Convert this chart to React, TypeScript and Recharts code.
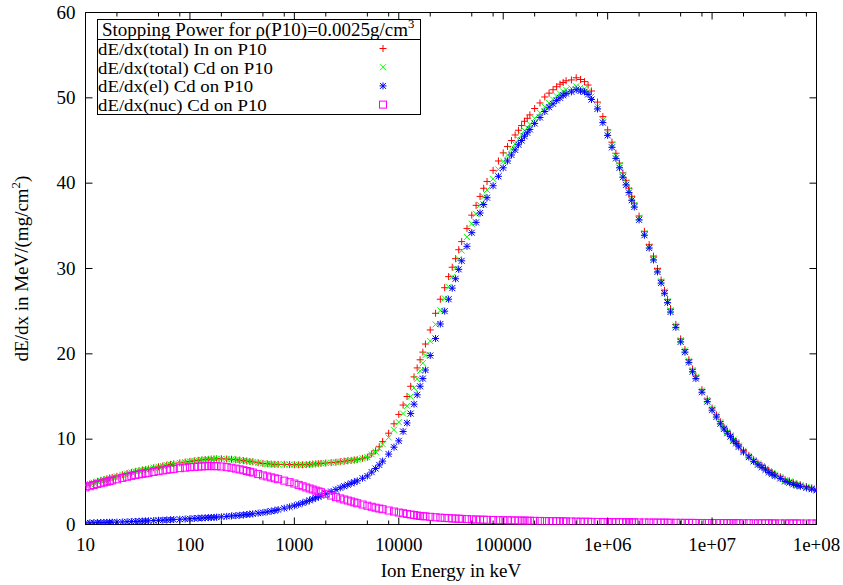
import { ScatterChart, Scatter, XAxis, YAxis } from 'recharts'

// SRIM energy grid (keV)
const energyKeV = [
  10, 11, 12, 13, 14, 15, 16, 17, 18, 20, 22.5, 25, 27.5, 30, 32.5, 35, 37.5, 40, 45, 50, 55, 60, 65, 70, 80, 90,
  100, 110, 120, 130, 140, 150, 160, 170, 180, 200, 225, 250, 275, 300, 325, 350, 375, 400, 450, 500, 550, 600, 650, 700, 800, 900,
  1e3, 1.1e3, 1.2e3, 1.3e3, 1.4e3, 1.5e3, 1.6e3, 1.7e3, 1.8e3, 2e3, 2.25e3, 2.5e3, 2.75e3, 3e3, 3.25e3, 3.5e3, 3.75e3, 4e3, 4.5e3, 5e3, 5.5e3, 6e3, 6.5e3, 7e3, 8e3, 9e3,
  1e4, 1.1e4, 1.2e4, 1.3e4, 1.4e4, 1.5e4, 1.6e4, 1.7e4, 1.8e4, 2e4, 2.25e4, 2.5e4, 2.75e4, 3e4, 3.25e4, 3.5e4, 3.75e4, 4e4, 4.5e4, 5e4, 5.5e4, 6e4, 6.5e4, 7e4, 8e4, 9e4,
  1e5, 1.1e5, 1.2e5, 1.3e5, 1.4e5, 1.5e5, 1.6e5, 1.7e5, 1.8e5, 2e5, 2.25e5, 2.5e5, 2.75e5, 3e5, 3.25e5, 3.5e5, 3.75e5, 4e5, 4.5e5, 5e5, 5.5e5, 6e5, 6.5e5, 7e5, 8e5, 9e5,
  1e6, 1.1e6, 1.2e6, 1.3e6, 1.4e6, 1.5e6, 1.6e6, 1.7e6, 1.8e6, 2e6, 2.25e6, 2.5e6, 2.75e6, 3e6, 3.25e6, 3.5e6, 3.75e6, 4e6, 4.5e6, 5e6, 5.5e6, 6e6, 6.5e6, 7e6, 8e6, 9e6,
  1e7, 1.1e7, 1.2e7, 1.3e7, 1.4e7, 1.5e7, 1.6e7, 1.7e7, 1.8e7, 2e7, 2.25e7, 2.5e7, 2.75e7, 3e7, 3.25e7, 3.5e7, 3.75e7, 4e7, 4.5e7, 5e7, 5.5e7, 6e7, 6.5e7, 7e7, 8e7, 9e7,
  1e8,
]

// dE/dx(total) In on P10
const inTotal = [
  4.6, 4.75, 4.9, 5.03, 5.14, 5.24, 5.33, 5.42, 5.51, 5.65, 5.83, 5.97, 6.1, 6.2, 6.3, 6.38, 6.45, 6.51, 6.65, 6.76, 6.86, 6.96, 7.04, 7.11, 7.22, 7.31,
  7.4, 7.46, 7.52, 7.57, 7.61, 7.64, 7.67, 7.68, 7.69, 7.7, 7.67, 7.65, 7.59, 7.54, 7.48, 7.44, 7.39, 7.34, 7.24, 7.15, 7.11, 7.08, 7.05, 7.05, 7.05, 7.02,
  7.0, 7.0, 7.0, 7.01, 7.05, 7.08, 7.1, 7.13, 7.16, 7.2, 7.25, 7.3, 7.36, 7.42, 7.47, 7.52, 7.56, 7.6, 7.76, 7.89, 8.27, 8.63, 9.11, 9.72, 10.7, 11.8,
  12.9, 14.0, 15.0, 16.2, 17.3, 18.35, 19.3, 20.2, 21.15, 22.8, 24.75, 26.4, 27.75, 29.05, 30.15, 31.15, 32.2, 33.15, 34.7, 36.25, 37.4, 38.45, 39.4, 40.2, 41.5, 42.6,
  43.55, 44.3, 45.0, 45.65, 46.2, 46.75, 47.25, 47.6, 48.0, 48.75, 49.4, 50.1, 50.55, 50.95, 51.3, 51.6, 51.8, 52.0, 52.1, 52.35, 52.15, 51.9, 51.5, 50.8, 49.5, 47.8,
  46.25, 44.8, 43.5, 42.35, 41.2, 40.3, 39.4, 38.45, 37.65, 36.15, 34.35, 32.8, 31.45, 30.0, 28.65, 27.45, 26.35, 25.25, 23.45, 21.75, 20.5, 19.3, 18.2, 17.4, 15.8, 14.7,
  13.65, 12.85, 12.05, 11.4, 10.9, 10.5, 10.0, 9.7, 9.3, 8.7, 8.1, 7.6, 7.2, 6.9, 6.6, 6.3, 6.1, 5.9, 5.6, 5.25, 5.1, 4.9, 4.75, 4.65, 4.45, 4.3,
  4.15,
]

// dE/dx(total) Cd on P10
const cdTotal = [
  4.6, 4.75, 4.9, 5.03, 5.14, 5.24, 5.33, 5.42, 5.51, 5.65, 5.83, 5.97, 6.1, 6.2, 6.3, 6.38, 6.45, 6.51, 6.65, 6.76, 6.86, 6.96, 7.04, 7.11, 7.22, 7.31,
  7.4, 7.46, 7.52, 7.57, 7.61, 7.64, 7.67, 7.68, 7.69, 7.7, 7.67, 7.65, 7.59, 7.54, 7.48, 7.44, 7.39, 7.34, 7.24, 7.15, 7.11, 7.08, 7.05, 7.05, 7.05, 7.02,
  7.0, 7.0, 7.0, 7.01, 7.05, 7.08, 7.1, 7.13, 7.16, 7.2, 7.25, 7.3, 7.36, 7.42, 7.47, 7.52, 7.56, 7.6, 7.76, 7.89, 8.22, 8.53, 8.91, 9.42, 10.2, 11.1,
  12.0, 13.0, 13.9, 15.0, 16.0, 17.05, 18.0, 18.9, 19.85, 21.5, 23.45, 25.1, 26.5, 27.85, 29.0, 30.05, 31.1, 32.1, 33.7, 35.25, 36.4, 37.45, 38.4, 39.2, 40.5, 41.6,
  42.55, 43.3, 44.0, 44.6, 45.15, 45.65, 46.15, 46.5, 46.9, 47.6, 48.25, 48.95, 49.4, 49.8, 50.2, 50.5, 50.75, 50.95, 51.1, 51.35, 51.2, 51.05, 50.75, 50.15, 49.0, 47.4,
  45.9, 44.5, 43.2, 42.1, 41.0, 40.1, 39.2, 38.25, 37.45, 35.95, 34.15, 32.6, 31.25, 29.8, 28.5, 27.3, 26.2, 25.1, 23.3, 21.6, 20.4, 19.2, 18.1, 17.3, 15.7, 14.6,
  13.6, 12.8, 12.0, 11.35, 10.85, 10.45, 9.95, 9.65, 9.25, 8.65, 8.05, 7.55, 7.15, 6.85, 6.55, 6.25, 6.05, 5.85, 5.55, 5.2, 5.05, 4.85, 4.7, 4.6, 4.4, 4.25,
  4.1,
]

// dE/dx(el) Cd on P10
const cdEl = [
  0.18, 0.19, 0.2, 0.22, 0.23, 0.24, 0.25, 0.26, 0.27, 0.28, 0.3, 0.32, 0.34, 0.36, 0.38, 0.4, 0.42, 0.43, 0.46, 0.49, 0.51, 0.53, 0.55, 0.58, 0.61, 0.64,
  0.68, 0.71, 0.74, 0.76, 0.78, 0.8, 0.82, 0.84, 0.86, 0.9, 0.95, 1.0, 1.04, 1.08, 1.12, 1.17, 1.21, 1.25, 1.33, 1.4, 1.48, 1.56, 1.64, 1.74, 1.91, 2.06,
  2.2, 2.36, 2.52, 2.67, 2.83, 2.98, 3.12, 3.25, 3.38, 3.6, 3.86, 4.09, 4.3, 4.49, 4.66, 4.82, 4.97, 5.11, 5.42, 5.69, 6.14, 6.56, 6.98, 7.43, 8.25, 9.06,
  9.8, 10.9, 11.9, 13.0, 14.1, 15.2, 16.2, 17.1, 18.1, 19.8, 21.8, 23.5, 25.0, 26.4, 27.7, 28.8, 29.9, 30.9, 32.6, 34.2, 35.4, 36.5, 37.5, 38.3, 39.7, 40.8,
  41.8, 42.6, 43.3, 43.9, 44.5, 45.0, 45.5, 45.9, 46.3, 47.0, 47.7, 48.4, 48.9, 49.3, 49.7, 50.0, 50.3, 50.5, 50.7, 50.95, 50.8, 50.7, 50.4, 49.8, 48.7, 47.1,
  45.6, 44.2, 42.9, 41.8, 40.7, 39.8, 38.9, 38.0, 37.2, 35.7, 33.9, 32.4, 31.0, 29.6, 28.3, 27.1, 26.0, 24.9, 23.1, 21.4, 20.2, 19.0, 17.9, 17.1, 15.5, 14.4,
  13.4, 12.6, 11.8, 11.2, 10.7, 10.3, 9.8, 9.5, 9.1, 8.5, 7.9, 7.4, 7.0, 6.7, 6.4, 6.1, 5.9, 5.7, 5.4, 5.05, 4.9, 4.7, 4.56, 4.47, 4.29, 4.14,
  4.0,
]

// dE/dx(nuc) Cd on P10
const cdNuc = [
  4.35, 4.49, 4.63, 4.74, 4.84, 4.93, 5.01, 5.09, 5.17, 5.3, 5.46, 5.59, 5.7, 5.79, 5.87, 5.94, 6.0, 6.05, 6.16, 6.25, 6.33, 6.41, 6.47, 6.52, 6.6, 6.66,
  6.72, 6.75, 6.78, 6.81, 6.83, 6.84, 6.85, 6.84, 6.83, 6.8, 6.72, 6.65, 6.55, 6.46, 6.36, 6.27, 6.18, 6.09, 5.91, 5.75, 5.63, 5.52, 5.41, 5.31, 5.14, 4.96,
  4.8, 4.64, 4.48, 4.34, 4.22, 4.1, 3.98, 3.88, 3.78, 3.6, 3.39, 3.21, 3.06, 2.93, 2.81, 2.7, 2.59, 2.49, 2.34, 2.2, 2.08, 1.97, 1.87, 1.79, 1.64, 1.52,
  1.4, 1.32, 1.24, 1.17, 1.11, 1.05, 1.0, 0.97, 0.95, 0.9, 0.85, 0.8, 0.77, 0.74, 0.71, 0.69, 0.68, 0.66, 0.63, 0.6, 0.58, 0.57, 0.56, 0.55, 0.53, 0.51,
  0.5, 0.49, 0.48, 0.47, 0.46, 0.46, 0.45, 0.44, 0.44, 0.43, 0.42, 0.4, 0.39, 0.39, 0.38, 0.37, 0.37, 0.36, 0.35, 0.34, 0.33, 0.32, 0.32, 0.31, 0.3, 0.29,
  0.28, 0.28, 0.27, 0.27, 0.26, 0.26, 0.26, 0.25, 0.25, 0.24, 0.24, 0.23, 0.23, 0.22, 0.22, 0.21, 0.21, 0.21, 0.2, 0.2, 0.19, 0.19, 0.19, 0.18, 0.18, 0.17,
  0.17, 0.17, 0.17, 0.16, 0.16, 0.16, 0.16, 0.16, 0.15, 0.15, 0.15, 0.14, 0.14, 0.14, 0.14, 0.14, 0.13, 0.13, 0.13, 0.13, 0.13, 0.13, 0.12, 0.12, 0.12, 0.12,
  0.12,
]

const xMajor = [10, 100, 1000, 1e4, 1e5, 1e6, 1e7, 1e8]
const xMajorLabels = ['10', '100', '1000', '10000', '100000', '1e+06', '1e+07', '1e+08']
const xMinorSteps = [2, 5, 8]
const yTicks = [0, 10, 20, 30, 40, 50, 60]

const legendTitle = 'Stopping Power for ρ(P10)=0.0025g/cm'
const seriesNames = [
  'dE/dx(total) In on P10',
  'dE/dx(total) Cd on P10',
  'dE/dx(el) Cd on P10',
  'dE/dx(nuc) Cd on P10',
]

const W = 843
const H = 585
const LEFT = 85.5
const RIGHT = 816.5
const TOP = 12.5
const BOTTOM = 524.5
const FONT = '"Liberation Serif", "Times New Roman", serif'
const FS = 19

const xTicks = [
  ...xMajor,
  ...xMajor.slice(0, -1).flatMap(m => xMinorSteps.map(s => m * s)),
].sort((a, b) => a - b)

const rows = (vals: number[]) => energyKeV.map((e, i) => ({ e, v: vals[i] }))

// gnuplot style point types
function Plus({ cx, cy, color }: any) {
  return <path d={`M${cx - 3.5},${cy}H${cx + 3.5}M${cx},${cy - 3.5}V${cy + 3.5}`} stroke={color} strokeWidth={1} fill="none" />
}
function Cross({ cx, cy, color }: any) {
  return <path d={`M${cx - 3},${cy - 3}L${cx + 3},${cy + 3}M${cx - 3},${cy + 3}L${cx + 3},${cy - 3}`} stroke={color} strokeWidth={1} fill="none" />
}
function Star({ cx, cy, color }: any) {
  return <path d={`M${cx - 3.5},${cy}H${cx + 3.5}M${cx},${cy - 3.5}V${cy + 3.5}M${cx - 3},${cy - 3}L${cx + 3},${cy + 3}M${cx - 3},${cy + 3}L${cx + 3},${cy - 3}`} stroke={color} strokeWidth={1} fill="none" />
}
function Box({ cx, cy, color }: any) {
  return <rect x={cx - 3.5} y={cy - 3.5} width={7} height={7} stroke={color} strokeWidth={1} fill="none" />
}

const series = [
  { vals: inTotal, color: '#ff0000', Mark: Plus },
  { vals: cdTotal, color: '#00ff00', Mark: Cross },
  { vals: cdEl, color: '#0000ff', Mark: Star },
  { vals: cdNuc, color: '#ff00ff', Mark: Box },
]

const textStyle = { fontFamily: FONT, fontSize: FS, fill: '#000' }

function BottomTick({ x, y, payload }: any) {
  const idx = xMajor.indexOf(payload.value)
  const major = idx >= 0
  return (
    <g>
      <line x1={x} x2={x} y1={y} y2={y - (major ? 7 : 4)} stroke="#000" />
      {major && <text x={x} y={y + 26} textAnchor="middle" style={textStyle}>{xMajorLabels[idx]}</text>}
    </g>
  )
}
function TopTick({ x, y, payload }: any) {
  const major = xMajor.includes(payload.value)
  return <line x1={x} x2={x} y1={y} y2={y + (major ? 7 : 4)} stroke="#000" />
}
function LeftTick({ x, y, payload }: any) {
  return (
    <g>
      <line x1={x} x2={x + 7} y1={y} y2={y} stroke="#000" />
      <text x={x - 10} y={y + 6} textAnchor="end" style={textStyle}>{payload.value}</text>
    </g>
  )
}
function RightTick({ x, y }: any) {
  return <line x1={x} x2={x - 7} y1={y} y2={y} stroke="#000" />
}

function YTitle() {
  const cx = 22
  const cy = (TOP + BOTTOM) / 2
  return (
    <text x={cx} y={cy + 6} transform={`rotate(-90 ${cx} ${cy})`} textAnchor="middle" style={textStyle}>
      dE/dx in MeV/(mg/cm<tspan dy={-8} fontSize={13}>2</tspan><tspan dy={8}>)</tspan>
    </text>
  )
}
function XTitle() {
  return (
    <text x={(LEFT + RIGHT) / 2} y={577} textAnchor="middle" style={textStyle}>Ion Energy in keV</text>
  )
}

// legend box, gnuplot "set key box" look
function LegendBox() {
  const bx = 97.5, by = 19.5, bw = 323, bh = 95
  const rowBase = [55, 73.7, 92.4, 111.1]
  return (
    <svg width={W} height={H} style={{ position: 'absolute', left: 0, top: 0, pointerEvents: 'none' }}>
      <rect x={bx} y={by} width={bw} height={bh} fill="#fff" stroke="#000" />
      <line x1={bx} x2={bx + bw} y1={39.5} y2={39.5} stroke="#000" />
      <text transform="translate(102 36.2) scale(1.055 1)" fontFamily={FONT} fontSize={18} fill="#000">
        {legendTitle}<tspan dy={-8} fontSize={12}>3</tspan>
      </text>
      {seriesNames.map((name, i) => {
        const { color, Mark } = series[i]
        return (
          <g key={name}>
            <text transform={`translate(98 ${rowBase[i]}) scale(1.14 1)`} fontFamily={FONT} fontSize={16.5} fill="#000">{name}</text>
            <Mark cx={383} cy={rowBase[i] - 6.5} color={color} />
          </g>
        )
      })}
    </svg>
  )
}

export default function App() {
  return (
    <div style={{ position: 'absolute', left: 0, top: 0, width: W, height: H, background: '#fff' }}>
      <ScatterChart width={W} height={H} margin={{ top: 0, right: 0, bottom: 0, left: 0 }}>
        <XAxis
          xAxisId="b" dataKey="e" type="number" scale="log" domain={[10, 1e8]} allowDataOverflow
          ticks={xTicks} interval={0} height={H - BOTTOM} orientation="bottom"
          axisLine={{ stroke: '#000' }} tickLine={false} tickSize={0} tickMargin={0}
          tick={<BottomTick />} label={<XTitle />}
        />
        <XAxis
          xAxisId="t" dataKey="e" type="number" scale="log" domain={[10, 1e8]} allowDataOverflow
          ticks={xTicks} interval={0} height={TOP} orientation="top"
          axisLine={{ stroke: '#000' }} tickLine={false} tickSize={0} tickMargin={0}
          tick={<TopTick />}
        />
        <YAxis
          yAxisId="l" dataKey="v" type="number" domain={[0, 60]} allowDataOverflow
          ticks={yTicks} interval={0} width={LEFT} orientation="left"
          axisLine={{ stroke: '#000' }} tickLine={false} tickSize={0} tickMargin={0}
          tick={<LeftTick />} label={<YTitle />}
        />
        <YAxis
          yAxisId="r" dataKey="v" type="number" domain={[0, 60]} allowDataOverflow
          ticks={yTicks} interval={0} width={W - RIGHT} orientation="right"
          axisLine={{ stroke: '#000' }} tickLine={false} tickSize={0} tickMargin={0}
          tick={<RightTick />}
        />
        {series.map(({ vals, color, Mark }, i) => (
          <Scatter
            key={i}
            xAxisId="b"
            yAxisId="l"
            data={rows(vals)}
            isAnimationActive={false}
            shape={(p: any) => <Mark cx={p.cx} cy={p.cy} color={color} />}
          />
        ))}
      </ScatterChart>
      <LegendBox />
    </div>
  )
}
